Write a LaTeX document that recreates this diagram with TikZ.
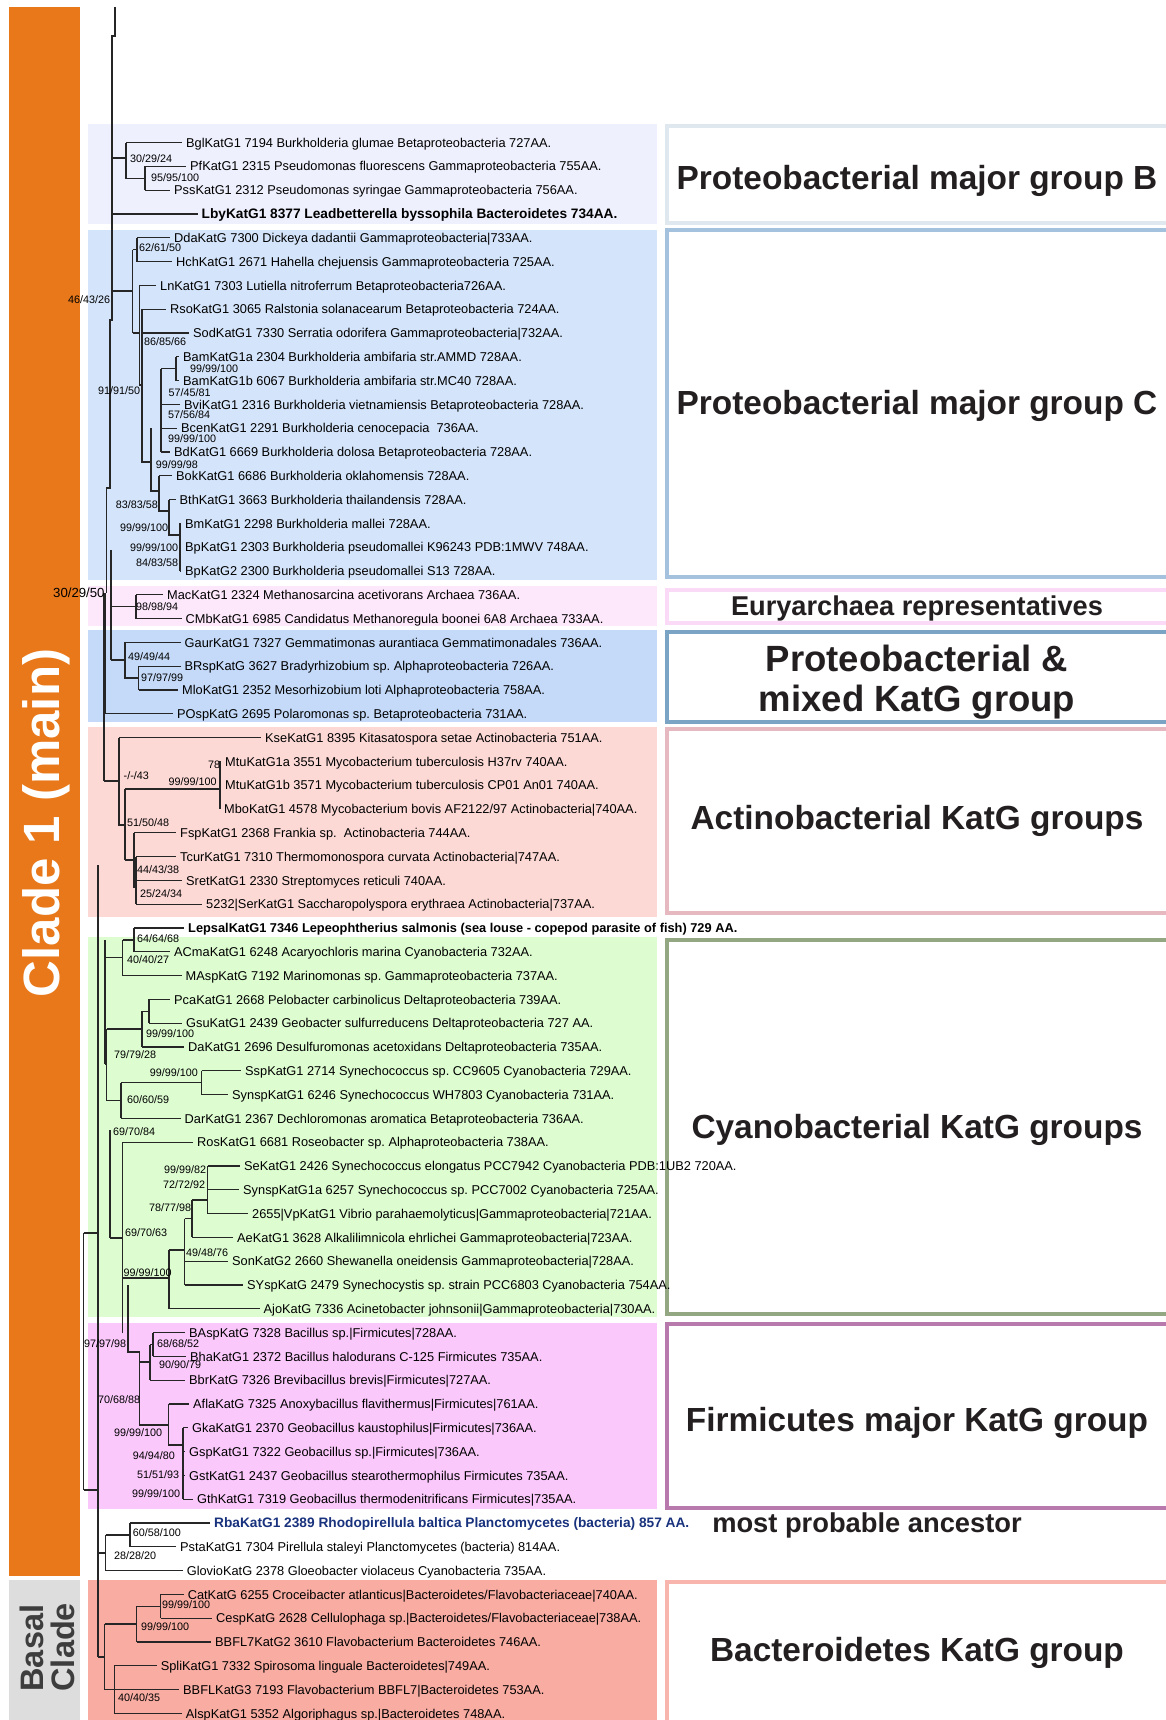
\documentclass[tikz,border=0pt]{standalone}
\usepackage{fontspec}
\setmainfont{Liberation Sans}
\frenchspacing
\definecolor{orangebar}{RGB}{232,120,26}
\definecolor{graybar}{RGB}{221,221,221}
\definecolor{fillB}{RGB}{238,240,253}
\definecolor{fillC}{RGB}{212,228,250}
\definecolor{fillE}{RGB}{253,232,251}
\definecolor{fillM}{RGB}{196,218,248}
\definecolor{fillA}{RGB}{253,217,214}
\definecolor{fillY}{RGB}{221,252,208}
\definecolor{fillF}{RGB}{251,200,251}
\definecolor{fillD}{RGB}{248,172,162}
\definecolor{edgeB}{RGB}{222,232,238}
\definecolor{edgeC}{RGB}{164,194,222}
\definecolor{edgeE}{RGB}{250,218,246}
\definecolor{edgeM}{RGB}{123,163,195}
\definecolor{edgeA}{RGB}{230,184,192}
\definecolor{edgeY}{RGB}{147,168,130}
\definecolor{edgeF}{RGB}{184,122,172}
\definecolor{edgeD}{RGB}{247,181,174}
\definecolor{rbablue}{RGB}{25,50,125}
\definecolor{ink}{RGB}{35,31,32}
\tikzset{
  br/.style={line width=1.2pt, draw=black!85},
  leaf/.style={anchor=west, inner xsep=4pt, inner ysep=0pt, text height=9.2pt, text depth=0pt,
    font=\fontsize{12.8}{14}\selectfont},
  leafbold/.style={leaf, font=\bfseries\fontsize{12.8}{14}\selectfont},
  leafbig/.style={leaf, font=\bfseries\fontsize{13.7}{15}\selectfont},
  bs/.style={anchor=west, inner sep=0pt, text height=7.7pt, text depth=0pt,
    font=\fontsize{10.8}{12}\selectfont},
  tagbox/.style={line width=4pt, fill=white},
  tagtext/.style={font=\bfseries\fontsize{33.4}{38}\selectfont, text=ink, align=center}
}
% leaf: [style] name, row, parent x, text x, label
\newcommand\lf[6][]{%
  \node[leaf,#1] (#2) at ({#5-4},{142.6+23.8*#3}) {#6};
  \draw[br] ({#4},{142.6+23.8*#3}) -- (#2.west);}
% support value: name, x, y, label
\newcommand\sv[4]{\node[bs] (#1) at ({#2},{#3}) {#4};}
\begin{document}
\begin{tikzpicture}[x=1pt,y=-1pt]
\useasboundingbox (0,0) rectangle (1166,1720);
\fill[white] (0,0) rectangle (1166,1720);

% clade bars
\fill[orangebar] (9,7) rectangle (80,1576);
\fill[graybar] (9,1580) rectangle (80,1720);
\node[rotate=90, text=white, font=\bfseries\fontsize{51}{56}\selectfont] (cladeone) at (46,823) {Clade 1 (main)};
\node[rotate=90, text=black!76, font=\bfseries\fontsize{32.5}{31}\selectfont, align=left, anchor=south west]
  (basal) at (78,1695) {Basal\\Clade};

% group backgrounds
\fill[fillB] (87.6,124) rectangle (657,224);
\fill[fillC] (87.6,230) rectangle (657,580);
\fill[fillE] (87.6,586) rectangle (657,626);
\fill[fillM] (87.6,630) rectangle (657,722);
\fill[fillA] (87.6,727) rectangle (657,917);
\fill[fillY] (87.6,937) rectangle (657,1317);
\fill[fillF] (87.6,1323) rectangle (657,1509);
\fill[fillD] (87.6,1580) rectangle (657,1725);

% group tags on the right
\draw[tagbox, draw=edgeB] (667,126) rectangle (1180,223);
\draw[tagbox, draw=edgeC] (667,230) rectangle (1180,577);
\draw[tagbox, draw=edgeE] (667,590) rectangle (1180,623);
\draw[tagbox, draw=edgeM] (667,632) rectangle (1180,722);
\draw[tagbox, draw=edgeA] (667,729) rectangle (1180,913);
\draw[tagbox, draw=edgeY] (667,940) rectangle (1180,1314);
\draw[tagbox, draw=edgeF] (667,1324) rectangle (1180,1508);
\draw[tagbox, draw=edgeD] (667,1582) rectangle (1180,1730);
\node[tagtext] (tagB) at (917,181) {Proteobacterial major group B};
\node[tagtext] (tagC) at (917,406) {Proteobacterial major group C};
\node[tagtext, font=\bfseries\fontsize{27.2}{30}\selectfont] (tagE) at (917,608) {Euryarchaea representatives};
\node[tagtext, font=\bfseries\fontsize{36.5}{40}\selectfont] (tagM) at (917,682) {Proteobacterial \&\\mixed KatG group};
\node[tagtext] (tagA) at (917,821) {Actinobacterial KatG groups};
\node[tagtext] (tagY) at (917,1130) {Cyanobacterial KatG groups};
\node[tagtext] (tagF) at (917,1423) {Firmicutes major KatG group};
\node[tagtext, font=\bfseries\fontsize{27.3}{30}\selectfont] (tagR) at (867,1525) {most probable ancestor};
\node[tagtext] (tagD) at (917,1653) {Bacteroidetes KatG group};

% ---- backbone ----
\draw[br] (115,7) -- (115,36) -- (112,36) -- (112,320) -- (110,320) -- (110,488) -- (106.5,488) -- (106.5,593);
\draw[br] (111,550) -- (111,660);
\draw[br] (104,593) -- (104,781);
\draw[br] (105,593) -- (105,713.8);
\draw[br] (98,865) -- (98,1657);
\draw[br] (105,940) -- (105,1064);
\draw[br] (105,1064) -- (106.5,1064);
\draw[br] (110,1130) -- (110,1238);
\draw[br] (83.5,1233) -- (83.5,1490);
\draw[br] (83.5,1233) -- (98,1233);
\draw[br] (83.5,1490) -- (98,1490);

% ---- group B ----
\draw[br] (112,158) -- (126,158);
\draw[br] (126,142.6) -- (126,178.3) -- (145,178.3);
\draw[br] (145,166.4) -- (145,190.2);
\lf{bgl}{0}{126}{186}{BglKatG1 7194 Burkholderia glumae Betaproteobacteria 727AA.}
\lf{pf}{1}{145}{190}{PfKatG1 2315 Pseudomonas fluorescens Gammaproteobacteria 755AA.}
\lf{pss}{2}{145}{174}{PssKatG1 2312 Pseudomonas syringae Gammaproteobacteria 756AA.}
\lf[leafbig]{lby}{3}{112}{201.5}{LbyKatG1 8377 Leadbetterella byssophila Bacteroidetes 734AA.}

% ---- group C ----
\draw[br] (112,291) -- (132.6,291);
\draw[br] (132.6,249.7) -- (132.6,333);
\draw[br] (132.6,249.7) -- (137,249.7);
\draw[br] (137,237.8) -- (137,261.6);
\draw[br] (132.6,333) -- (139.5,333);
\draw[br] (139.5,285.4) -- (139.5,385) -- (142,385);
\draw[br] (142,309.2) -- (142,462) -- (151,462);
\draw[br] (151,428.2) -- (151,491) -- (159,491);
\draw[br] (161,368.7) -- (161,452);
\draw[br] (161,368.7) -- (176,368.7);
\draw[br] (176,356.8) -- (176,380.6);
\draw[br] (159,475.8) -- (159,511) -- (169,511);
\draw[br] (169,499.6) -- (169,535) -- (180,535);
\draw[br] (180,523.4) -- (180,571);
\lf{dda}{4}{137}{174}{DdaKatG 7300 Dickeya dadantii Gammaproteobacteria|733AA.}
\lf{hch}{5}{137}{176}{HchKatG1 2671 Hahella chejuensis Gammaproteobacteria 725AA.}
\lf{ln}{6}{139.5}{160}{LnKatG1 7303 Lutiella nitroferrum Betaproteobacteria726AA.}
\lf{rso}{7}{142}{170}{RsoKatG1 3065 Ralstonia solanacearum Betaproteobacteria 724AA.}
\lf{sod}{8}{142}{193}{SodKatG1 7330 Serratia odorifera Gammaproteobacteria|732AA.}
\lf{bama}{9}{176}{183}{BamKatG1a 2304 Burkholderia ambifaria str.AMMD 728AA.}
\lf{bamb}{10}{176}{183}{BamKatG1b 6067 Burkholderia ambifaria str.MC40 728AA.}
\lf{bvi}{11}{161}{184}{BviKatG1 2316 Burkholderia vietnamiensis Betaproteobacteria 728AA.}
\lf{bcen}{12}{161}{181}{BcenKatG1 2291 Burkholderia cenocepacia\ \ 736AA.}
\lf{bd}{13}{161}{174}{BdKatG1 6669 Burkholderia dolosa Betaproteobacteria 728AA.}
\lf{bok}{14}{159}{176}{BokKatG1 6686 Burkholderia oklahomensis 728AA.}
\lf{bth}{15}{169}{179.5}{BthKatG1 3663 Burkholderia thailandensis 728AA.}
\lf{bm}{16}{180}{185}{BmKatG1 2298 Burkholderia mallei 728AA.}
\lf{bpa}{17}{180}{185}{BpKatG1 2303 Burkholderia pseudomallei K96243 PDB:1MWV 748AA.}
\lf{bpb}{18}{180}{185}{BpKatG2 2300 Burkholderia pseudomallei S13 728AA.}

% ---- Euryarchaea and mixed group ----
\draw[br] (111,606.7) -- (136,606.7);
\draw[br] (136,594.8) -- (136,618.6);
\draw[br] (111,660) -- (125,660);
\draw[br] (125,642.4) -- (125,678) -- (138.6,678);
\draw[br] (138.6,666.2) -- (138.6,690);
\lf{mac}{19}{136}{167}{MacKatG1 2324 Methanosarcina acetivorans Archaea 736AA.}
\lf{cmb}{20}{136}{185.5}{CMbKatG1 6985 Candidatus Methanoregula boonei 6A8 Archaea 733AA.}
\lf{gaur}{21}{125}{184.5}{GaurKatG1 7327 Gemmatimonas aurantiaca Gemmatimonadales 736AA.}
\lf{brsp}{22}{138.6}{184.5}{BRspKatG 3627 Bradyrhizobium sp. Alphaproteobacteria 726AA.}
\lf{mlo}{23}{138.6}{182}{MloKatG1 2352 Mesorhizobium loti Alphaproteobacteria 758AA.}
\lf{posp}{24}{105}{177}{POspKatG 2695 Polaromonas sp. Betaproteobacteria 731AA.}

% ---- Actinobacteria ----
\draw[br] (104,781) -- (119,781);
\draw[br] (119,737.6) -- (119,825) -- (125,825);
\draw[br] (125,789) -- (125,860);
\draw[br] (125,789) -- (220,789);
\draw[br] (220,761.4) -- (220,809);
\draw[br] (125,860) -- (134,860);
\draw[br] (134,832.8) -- (134,887) -- (136,887);
\draw[br] (136,856.6) -- (136,904.2);
\lf{kse}{25}{119}{265}{KseKatG1 8395 Kitasatospora setae Actinobacteria 751AA.}
\lf{mtua}{26}{220}{225}{MtuKatG1a 3551 Mycobacterium tuberculosis H37rv 740AA.}
\lf{mtub}{27}{220}{225}{MtuKatG1b 3571 Mycobacterium tuberculosis CP01 An01 740AA.}
\lf{mbo}{28}{220}{224}{MboKatG1 4578 Mycobacterium bovis AF2122/97 Actinobacteria|740AA.}
\lf{fsp}{29}{134}{180}{FspKatG1 2368 Frankia sp.\ \ Actinobacteria 744AA.}
\lf{tcur}{30}{136}{180}{TcurKatG1 7310 Thermomonospora curvata Actinobacteria|747AA.}
\lf{sret}{31}{136}{186}{SretKatG1 2330 Streptomyces reticuli 740AA.}
\lf{ser}{32}{136}{206}{5232|SerKatG1 Saccharopolyspora erythraea Actinobacteria|737AA.}

% ---- Cyanobacteria and relatives ----
\draw[br] (134,928) -- (134,951.8);
\draw[br] (122.5,940) -- (134,940);
\draw[br] (122.5,940) -- (122.5,975.6);
\draw[br] (105,957.8) -- (122.5,957.8);
\draw[br] (149,999.4) -- (149,1023.2);
\draw[br] (142,1011.3) -- (149,1011.3);
\draw[br] (142,1011.3) -- (142,1047);
\draw[br] (106.5,1029) -- (142,1029);
\draw[br] (106.5,1029) -- (106.5,1100.5);
\draw[br] (201.5,1070.8) -- (201.5,1094.6);
\draw[br] (121,1082.7) -- (201.5,1082.7);
\draw[br] (121,1082.7) -- (121,1118.4);
\draw[br] (106.5,1100.5) -- (121,1100.5);
\draw[br] (122.5,1142.2) -- (122.5,1333);
\draw[br] (110,1238) -- (122.5,1238);
\draw[br] (207.5,1166) -- (207.5,1213.6);
\draw[br] (192,1200) -- (207.5,1200);
\draw[br] (192,1200) -- (192,1237.4);
\draw[br] (184.5,1218.7) -- (192,1218.7);
\draw[br] (184.5,1218.7) -- (184.5,1285);
\draw[br] (169,1250) -- (184.5,1250);
\draw[br] (169,1250) -- (169,1308.8);
\draw[br] (122.5,1278) -- (169,1278);
\lf[leafbold]{lepsal}{33}{134}{188}{LepsalKatG1 7346 Lepeophtherius salmonis (sea louse - copepod parasite of fish) 729 AA.}
\lf{acma}{34}{134}{174}{ACmaKatG1 6248 Acaryochloris marina Cyanobacteria 732AA.}
\lf{masp}{35}{122.5}{185.5}{MAspKatG 7192 Marinomonas sp. Gammaproteobacteria 737AA.}
\lf{pca}{36}{149}{174}{PcaKatG1 2668 Pelobacter carbinolicus Deltaproteobacteria 739AA.}
\lf{gsu}{37}{149}{186}{GsuKatG1 2439 Geobacter sulfurreducens Deltaproteobacteria 727 AA.}
\lf{da}{38}{142}{188}{DaKatG1 2696 Desulfuromonas acetoxidans Deltaproteobacteria 735AA.}
\lf{ssp}{39}{201.5}{245}{SspKatG1 2714 Synechococcus sp. CC9605 Cyanobacteria 729AA.}
\lf{synsp}{40}{201.5}{232}{SynspKatG1 6246 Synechococcus WH7803 Cyanobacteria 731AA.}
\lf{dar}{41}{121}{184.5}{DarKatG1 2367 Dechloromonas aromatica Betaproteobacteria 736AA.}
\lf{ros}{42}{122.5}{197}{RosKatG1 6681 Roseobacter sp. Alphaproteobacteria 738AA.}
\lf{se}{43}{207.5}{244}{SeKatG1 2426 Synechococcus elongatus PCC7942 Cyanobacteria PDB:1UB2 720AA.}
\lf{synspa}{44}{207.5}{243}{SynspKatG1a 6257 Synechococcus sp. PCC7002 Cyanobacteria 725AA.}
\lf{vp}{45}{207.5}{252}{2655|VpKatG1 Vibrio parahaemolyticus|Gammaproteobacteria|721AA.}
\lf{ae}{46}{192}{237}{AeKatG1 3628 Alkalilimnicola ehrlichei Gammaproteobacteria|723AA.}
\lf{son}{47}{184.5}{232}{SonKatG2 2660 Shewanella oneidensis Gammaproteobacteria|728AA.}
\lf{sysp}{48}{184.5}{247}{SYspKatG 2479 Synechocystis sp. strain PCC6803 Cyanobacteria 754AA.}
\lf{ajo}{49}{169}{263.5}{AjoKatG 7336 Acinetobacter johnsonii|Gammaproteobacteria|730AA.}

% ---- Firmicutes ----
\draw[br] (128,1285) -- (128,1352) -- (139.5,1352);
\draw[br] (153,1332.6) -- (153,1356.4);
\draw[br] (150,1344.5) -- (153,1344.5);
\draw[br] (150,1344.5) -- (150,1380.2);
\draw[br] (139.5,1362) -- (150,1362);
\draw[br] (139.5,1352) -- (139.5,1425) -- (168.5,1425);
\draw[br] (168.5,1404) -- (168.5,1445) -- (183,1445);
\draw[br] (183,1427.8) -- (183,1499.2);
\lf{basp}{50}{153}{189}{BAspKatG 7328 Bacillus sp.|Firmicutes|728AA.}
\lf{bha}{51}{153}{190}{BhaKatG1 2372 Bacillus halodurans C-125 Firmicutes 735AA.}
\lf{bbr}{52}{150}{189}{BbrKatG 7326 Brevibacillus brevis|Firmicutes|727AA.}
\lf{afla}{53}{168.5}{193}{AflaKatG 7325 Anoxybacillus flavithermus|Firmicutes|761AA.}
\lf{gka}{54}{183}{192}{GkaKatG1 2370 Geobacillus kaustophilus|Firmicutes|736AA.}
\lf{gsp}{55}{183}{189}{GspKatG1 7322 Geobacillus sp.|Firmicutes|736AA.}
\lf{gst}{56}{183}{189}{GstKatG1 2437 Geobacillus stearothermophilus Firmicutes 735AA.}
\lf{gth}{57}{183}{197}{GthKatG1 7319 Geobacillus thermodenitrificans Firmicutes|735AA.}

% ---- Planctomycetes and Gloeobacter ----
\draw[br] (130,1523) -- (130,1546.8);
\draw[br] (105.6,1535) -- (130,1535);
\draw[br] (105.6,1535) -- (105.6,1570.6);
\draw[br] (98,1553) -- (105.6,1553);
\lf[leafbig, text=rbablue]{rba}{58}{130}{214}{RbaKatG1 2389 Rhodopirellula baltica Planctomycetes (bacteria) 857 AA.}
\lf{psta}{59}{130}{180}{PstaKatG1 7304 Pirellula staleyi Planctomycetes (bacteria) 814AA.}
\lf{glovio}{60}{105.6}{186.6}{GlovioKatG 2378 Gloeobacter violaceus Cyanobacteria 735AA.}

% ---- Bacteroidetes ----
\draw[br] (98,1657) -- (104.6,1657);
\draw[br] (104.6,1624) -- (104.6,1689.6);
\draw[br] (104.6,1624) -- (136.5,1624);
\draw[br] (136.5,1606.3) -- (136.5,1642);
\draw[br] (136.5,1606.3) -- (160.6,1606.3);
\draw[br] (160.6,1594.4) -- (160.6,1618.2);
\draw[br] (104.6,1689.6) -- (114.4,1689.6);
\draw[br] (114.4,1665.8) -- (114.4,1713.4);
\lf{cat}{61}{160.6}{187.6}{CatKatG 6255 Croceibacter atlanticus|Bacteroidetes/Flavobacteriaceae|740AA.}
\lf{cesp}{62}{160.6}{216}{CespKatG 2628 Cellulophaga sp.|Bacteroidetes/Flavobacteriaceae|738AA.}
\lf{bbfla}{63}{136.5}{215}{BBFL7KatG2 3610 Flavobacterium Bacteroidetes 746AA.}
\lf{spli}{64}{114.4}{160.6}{SpliKatG1 7332 Spirosoma linguale Bacteroidetes|749AA.}
\lf{bbflb}{65}{114.4}{183}{BBFLKatG3 7193 Flavobacterium BBFL7|Bacteroidetes 753AA.}
\lf{alsp}{66}{114.4}{185.7}{AlspKatG1 5352 Algoriphagus sp.|Bacteroidetes 748AA.}

% ---- support values ----
\sv{s1}{130}{159}{30/29/24}
\sv{s2}{151}{178}{95/95/100}
\sv{s3}{139}{248}{62/61/50}
\sv{s4}{68}{300}{46/43/26}
\sv{s5}{144}{342}{86/85/66}
\sv{s6}{190}{369}{99/99/100}
\sv{s7}{168.5}{393}{57/45/81}
\sv{s8}{98}{391}{91/91/50}
\sv{s9}{168}{415}{57/56/84}
\sv{s10}{168}{439}{99/99/100}
\sv{s11}{155.6}{465}{99/99/98}
\sv{s12}{115.6}{505}{83/83/58}
\sv{s13}{120}{528}{99/99/100}
\sv{s14}{130}{548}{99/99/100}
\sv{s15}{136}{563}{84/83/58}
\node[bs, font=\fontsize{13.2}{14}\selectfont] (s16) at (53,594) {30/29/50};
\sv{s17}{136}{607}{98/98/94}
\sv{s18}{128}{657}{49/49/44}
\sv{s19}{141}{678}{97/97/99}
\sv{s20}{123.5}{776}{-/-/43}
\sv{s21}{208}{765}{78}
\sv{s22}{168.5}{782}{99/99/100}
\sv{s23}{127}{823}{51/50/48}
\sv{s24}{137}{870}{44/43/38}
\sv{s25}{140}{894}{25/24/34}
\sv{s26}{137}{939}{64/64/68}
\sv{s27}{127}{960}{40/40/27}
\sv{s28}{146}{1034}{99/99/100}
\sv{s29}{114}{1055}{79/79/28}
\sv{s30}{149.6}{1073}{99/99/100}
\sv{s31}{127}{1100}{60/60/59}
\sv{s32}{113}{1132}{69/70/84}
\sv{s33}{164}{1170}{99/99/82}
\sv{s34}{163}{1185}{72/72/92}
\sv{s35}{149}{1208}{78/77/98}
\sv{s36}{125}{1233}{69/70/63}
\sv{s37}{186}{1253}{49/48/76}
\sv{s38}{123.5}{1273}{99/99/100}
\sv{s39}{84}{1344}{97/97/98}
\sv{s40}{157}{1344}{68/68/52}
\sv{s41}{159}{1365}{90/90/79}
\sv{s42}{98}{1400}{70/68/88}
\sv{s43}{114}{1433}{99/99/100}
\sv{s44}{132.6}{1456}{94/94/80}
\sv{s45}{137}{1475}{51/51/93}
\sv{s46}{132}{1494}{99/99/100}
\sv{s47}{132.6}{1533}{60/58/100}
\sv{s48}{114}{1556}{28/28/20}
\sv{s49}{162}{1605}{99/99/100}
\sv{s50}{141}{1627}{99/99/100}
\sv{s51}{118}{1698}{40/40/35}
\end{tikzpicture}
\end{document}
